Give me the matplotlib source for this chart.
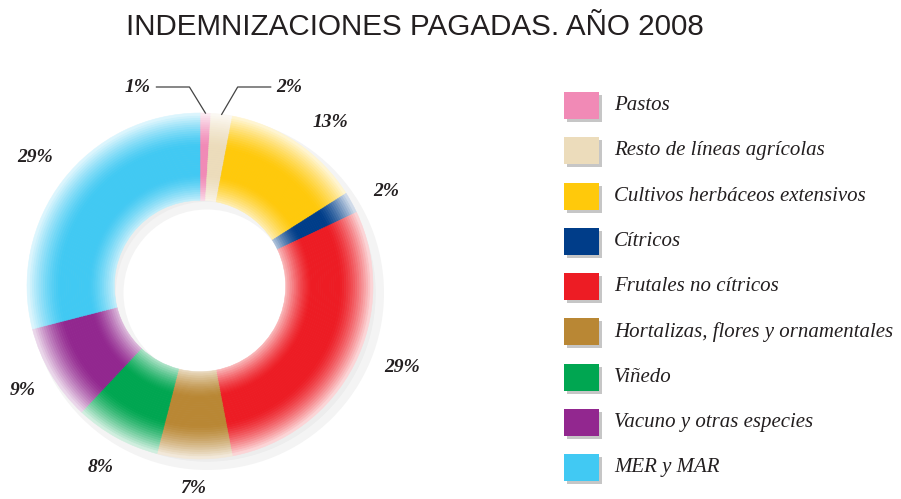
import numpy as np
import matplotlib.pyplot as plt
from matplotlib.colors import to_rgb
from matplotlib.patches import Rectangle

# data
categories = ["Pastos", "Resto de líneas agrícolas", "Cultivos herbáceos extensivos",
              "Cítricos", "Frutales no cítricos", "Hortalizas, flores y ornamentales",
              "Viñedo", "Vacuno y otras especies", "MER y MAR"]
values = [1, 2, 13, 2, 29, 7, 8, 9, 29]
labels = ["1%", "2%", "13%", "2%", "29%", "7%", "8%", "9%", "29%"]
colors = ["#f18ab6", "#ecdcbb", "#ffc90b", "#003d89", "#ed1c24",
          "#b98734", "#00a651", "#92278f", "#41c9f3"]

W, H = 901, 499
txt = "#231f20"

def tint(c, w):
    r = np.array(to_rgb(c))
    return tuple(r + (1 - r) * w)

def whiteness(t):
    outer = 0.85 * np.clip((t - 0.62) / 0.38, 0, 1) ** 1.4
    inner = 0.7 * np.clip((0.3 - t) / 0.3, 0, 1) ** 1.4
    return outer + inner

fig = plt.figure(figsize=(W / 100, H / 100), dpi=100)
ax = fig.add_axes([0, 0, 1, 1])

cx, cy = 200, H - 286
R, r_in = 173, 86
N = 40
dr = (R - r_in) / N

# shadow ring, shifted down-right
sh_n = 12
for i in range(sh_n):
    t = (i + 0.5) / sh_n
    g = 0.80 + 0.17 * abs(t - 0.5) * 2
    ax.pie([1], radius=r_in - 2 + (i + 1) * (R - r_in + 6) / sh_n,
           center=(cx + 7, cy - 7), colors=[(g, g, g)],
           wedgeprops=dict(width=(R - r_in + 6) / sh_n + 0.5, linewidth=0))

# donut with radial fade
for i in range(N):
    t = (i + 0.5) / N
    cols = [tint(c, whiteness(t)) for c in colors]
    wedges, _ = ax.pie(values, radius=r_in + (i + 1) * dr, center=(cx, cy),
                       colors=cols, startangle=90, counterclock=False,
                       wedgeprops=dict(width=dr + 0.3, linewidth=0.4))
    for w, c in zip(wedges, cols):
        w.set_edgecolor(c)

# percentage labels
fracs = np.cumsum(values) - np.array(values) / 2
mids = np.deg2rad(90 - 360 * fracs / sum(values))
lab_font = dict(family="Liberation Serif", style="italic", weight="bold",
                size=14, color=txt, ha="center", va="center")
shift = {2: -4.5, 3: -2.0, 4: 5.0}
dist = {4: 218, 5: 203, 6: 207, 7: 206}
for i, (lab, a) in enumerate(zip(labels, mids)):
    if i < 2:
        continue
    a2 = a + np.deg2rad(shift.get(i, 0))
    d = dist.get(i, 209)
    ax.text(cx + d * np.cos(a2), cy + d * np.sin(a2), lab, **lab_font)

# leader lines for the two thin slices at the top
for i, side in [(0, -1), (1, 1)]:
    px, py = cx + R * np.cos(mids[i]), cy + R * np.sin(mids[i])
    ex, ey = px + side * 16, H - 87
    ax.plot([px, ex, ex + side * 33], [py, ey, ey], color="#444444", lw=0.9)
    ax.text(ex + side * 52, ey, labels[i], **lab_font)

# legend
for k, (name, c) in enumerate(zip(categories, colors)):
    yc = H - (105.5 + 45.25 * k)
    ax.add_patch(Rectangle((567, yc - 16.5), 35, 27, color="#c6c6c6", lw=0))
    ax.add_patch(Rectangle((564, yc - 13.5), 35, 27, color=c, lw=0))
    ax.text(614, yc, name, family="Liberation Serif", style="italic",
            size=15, color=txt, ha="left", va="center")

ax.text(415, H - 27, "INDEMNIZACIONES PAGADAS. AÑO 2008", family="Liberation Sans",
        size=21.3, color=txt, ha="center", va="center")

ax.set_xlim(0, W)
ax.set_ylim(0, H)
ax.set_aspect("auto")
ax.axis("off")
fig.savefig("out.png", dpi=100)
